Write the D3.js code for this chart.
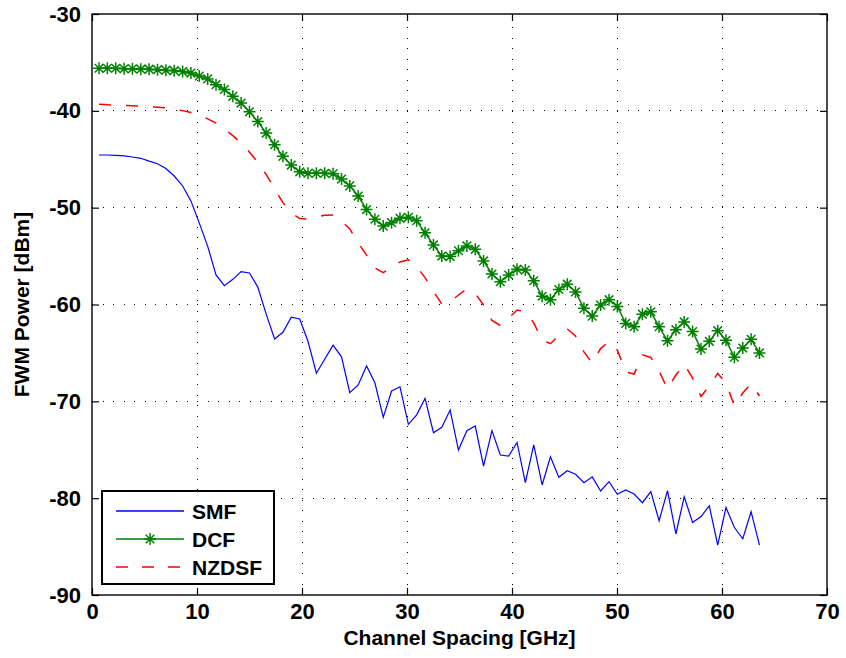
<!DOCTYPE html>
<html>
<head>
<meta charset="utf-8">
<script src="https://cdn.jsdelivr.net/npm/d3@7"></script>
<style>
    body { margin: 0; background: #fff; }
    svg text { font-family: "Liberation Sans", Arial, sans-serif; font-weight: bold; fill: #000; }
</style>
</head>
<body>
<svg id="chart" width="846" height="658"></svg>
<script>
// Channel spacing samples [GHz], shared by all three fibres
var spacing = [0.67, 1.46, 2.26, 3.06, 3.85, 4.65, 5.44, 6.24, 7.04, 7.83,
    8.63, 9.42, 10.22, 11.02, 11.81, 12.61, 13.41, 14.20, 15.00, 15.79,
    16.59, 17.39, 18.18, 18.98, 19.78, 20.57, 21.37, 22.16, 22.96, 23.76,
    24.55, 25.35, 26.15, 26.94, 27.74, 28.53, 29.33, 30.13, 30.92, 31.72,
    32.52, 33.31, 34.11, 34.90, 35.70, 36.50, 37.29, 38.09, 38.89, 39.68,
    40.48, 41.27, 42.07, 42.87, 43.66, 44.46, 45.26, 46.05, 46.85, 47.64,
    48.44, 49.24, 50.03, 50.83, 51.63, 52.42, 53.22, 54.01, 54.81, 55.61,
    56.40, 57.20, 58.00, 58.79, 59.59, 60.38, 61.18, 61.98, 62.77, 63.57];

// FWM power [dBm]
var smfPower = [-44.56, -44.56, -44.6, -44.65, -44.77, -44.9, -45.2, -45.46, -45.96, -46.73,
    -47.76, -49.3, -51.6, -54.0, -56.95, -58.06, -57.4, -56.6, -56.75, -58.2,
    -61.0, -63.56, -62.87, -61.3, -61.5, -63.8, -67.1, -65.66, -64.2, -65.4,
    -69.1, -68.3, -66.35, -68.08, -71.65, -68.93, -68.5, -72.37, -71.4, -69.7,
    -73.24, -72.68, -70.9, -75.03, -73.03, -72.55, -76.68, -73.03, -75.54, -75.65,
    -74.25, -78.4, -74.5, -78.64, -75.72, -77.85, -77.17, -77.53, -78.4, -77.8,
    -79.26, -78.3, -79.6, -79.16, -79.57, -80.47, -79.33, -82.33, -79.23, -83.7,
    -79.85, -82.51, -81.9, -80.79, -84.84, -80.97, -83.03, -84.19, -81.4, -84.84];

var dcfPower = [-35.6, -35.6, -35.6, -35.65, -35.65, -35.7, -35.7, -35.75, -35.8, -35.85,
    -35.95, -36.1, -36.4, -36.7, -37.3, -37.8, -38.5, -39.2, -40.1, -41.1,
    -42.3, -43.5, -44.7, -45.6, -46.3, -46.45, -46.45, -46.45, -46.5, -47.05,
    -47.75, -48.8, -50.2, -51.2, -51.9, -51.55, -51.1, -51.0, -51.35, -52.6,
    -53.85, -55.0, -55.05, -54.45, -53.95, -54.3, -55.5, -56.85, -57.65, -56.95,
    -56.35, -56.45, -57.55, -59.15, -59.5, -58.45, -57.9, -58.7, -60.4, -61.2,
    -60.05, -59.5, -60.2, -61.95, -62.3, -61.0, -60.75, -62.3, -63.75, -62.6,
    -61.8, -62.8, -64.6, -63.8, -62.7, -63.7, -65.45, -64.5, -63.6, -65.0];

var nzdsfPower = [-39.33, -39.38, -39.41, -39.44, -39.47, -39.52, -39.58, -39.64, -39.7, -39.82,
    -39.98, -40.18, -40.44, -40.83, -41.26, -41.88, -42.56, -43.33, -44.27, -45.3,
    -46.58, -48.02, -49.48, -50.55, -51.12, -51.17, -50.96, -50.79, -50.76, -51.38,
    -52.2, -53.65, -54.9, -56.23, -56.7, -56.13, -55.61, -55.38, -56.08, -57.22,
    -58.66, -59.95, -59.75, -59.02, -58.4, -58.87, -60.05, -61.65, -62.17, -61.4,
    -60.57, -60.75, -61.9, -63.7, -64.05, -63.2, -62.53, -63.25, -64.9, -66.04,
    -64.55, -63.82, -64.7, -66.97, -67.18, -65.2, -65.47, -66.87, -68.73, -67.28,
    -66.15, -67.6, -69.5, -68.42, -67.12, -68.1, -70.48, -69.14, -68.16, -69.45];

var xTicks = [0, 10, 20, 30, 40, 50, 60, 70];
var yTicks = [-90, -80, -70, -60, -50, -40, -30];
var seriesNames = ["SMF", "DCF", "NZDSF"];
var seriesColors = ["#0000ff", "#008000", "#ff0000"];

var svg = d3.select("#chart");
var margin = {top: 14, right: 19, bottom: 63, left: 92};
var width = 846 - margin.left - margin.right;
var height = 658 - margin.top - margin.bottom;

var x = d3.scaleLinear().domain([0, 70]).range([0, width]);
var y = d3.scaleLinear().domain([-90, -30]).range([height, 0]);

var g = svg.append("g")
    .attr("transform", "translate(" + margin.left + "," + margin.top + ")");

// dotted grid
var grid = g.append("g")
    .attr("stroke", "#000")
    .attr("stroke-width", 1)
    .attr("stroke-dasharray", "1,9.5")
    .attr("shape-rendering", "crispEdges");
grid.selectAll("line.vx")
    .data(xTicks.slice(1, -1))
    .enter().append("line")
    .attr("x1", function(d) { return x(d); })
    .attr("x2", function(d) { return x(d); })
    .attr("y1", height)
    .attr("y2", 0);
grid.selectAll("line.hy")
    .data(yTicks.slice(1, -1))
    .enter().append("line")
    .attr("x1", 0)
    .attr("x2", width)
    .attr("y1", function(d) { return y(d); })
    .attr("y2", function(d) { return y(d); });

// axes, ticks pointing inward on every side
var plain = function(d) { return String(d); };

function styleAxis(sel) {
    sel.select(".domain").remove();
    sel.selectAll(".tick line").attr("stroke", "#000").attr("stroke-width", 1.2);
    sel.selectAll(".tick text").attr("font-size", 22).attr("font-family", null);
}

g.append("g")
    .attr("transform", "translate(0," + height + ")")
    .call(d3.axisBottom(x).tickValues(xTicks).tickFormat(plain).tickSize(-7).tickPadding(8))
    .call(styleAxis);
g.append("g")
    .call(d3.axisTop(x).tickValues(xTicks).tickSize(-7).tickFormat(""))
    .call(styleAxis);
g.append("g")
    .call(d3.axisLeft(y).tickValues(yTicks).tickFormat(plain).tickSize(-7).tickPadding(11))
    .call(styleAxis);
g.append("g")
    .attr("transform", "translate(" + width + ",0)")
    .call(d3.axisRight(y).tickValues(yTicks).tickSize(-7).tickFormat(""))
    .call(styleAxis);

g.append("rect")
    .attr("width", width)
    .attr("height", height)
    .attr("fill", "none")
    .attr("stroke", "#000")
    .attr("stroke-width", 1.4);

// curves
function line(values) {
    return d3.line()
        .x(function(d, i) { return x(spacing[i]); })
        .y(function(d) { return y(d); })(values);
}

g.append("path")
    .attr("d", line(smfPower))
    .attr("fill", "none")
    .attr("stroke", seriesColors[0])
    .attr("stroke-width", 1.2);

g.append("path")
    .attr("d", line(nzdsfPower))
    .attr("fill", "none")
    .attr("stroke", seriesColors[2])
    .attr("stroke-width", 1.5)
    .attr("stroke-dasharray", "12,15");

g.append("path")
    .attr("d", line(dcfPower))
    .attr("fill", "none")
    .attr("stroke", seriesColors[1])
    .attr("stroke-width", 1.5);

var asterisk = "M-6,0H6M0,-6V6M-4.3,-4.3L4.3,4.3M-4.3,4.3L4.3,-4.3";
g.selectAll("path.marker")
    .data(dcfPower)
    .enter().append("path")
    .attr("class", "marker")
    .attr("transform", function(d, i) { return "translate(" + x(spacing[i]) + "," + y(d) + ")"; })
    .attr("d", asterisk)
    .attr("fill", "none")
    .attr("stroke", seriesColors[1])
    .attr("stroke-width", 1.5);

// axis titles
svg.append("text")
    .attr("x", margin.left + width / 2)
    .attr("y", 645)
    .attr("text-anchor", "middle")
    .attr("font-size", 21)
    .text("Channel Spacing [GHz]");
svg.append("text")
    .attr("transform", "translate(29," + (margin.top + height / 2) + ") rotate(-90)")
    .attr("text-anchor", "middle")
    .attr("font-size", 21)
    .text("FWM Power [dBm]");

// legend
var legend = svg.append("g").attr("transform", "translate(102,491)");
legend.append("rect")
    .attr("width", 172)
    .attr("height", 93)
    .attr("fill", "#fff")
    .attr("stroke", "#000")
    .attr("stroke-width", 2);

var rows = legend.selectAll("g.row")
    .data(seriesNames)
    .enter().append("g")
    .attr("transform", function(d, i) { return "translate(0," + (20 + i * 28) + ")"; });
rows.append("line")
    .attr("x1", 14)
    .attr("x2", 82)
    .attr("stroke", function(d, i) { return seriesColors[i]; })
    .attr("stroke-width", function(d, i) { return i === 0 ? 1.4 : 1.6; })
    .attr("stroke-dasharray", function(d, i) { return i === 2 ? "12,14" : null; });
rows.filter(function(d, i) { return i === 1; })
    .append("path")
    .attr("transform", "translate(48,0)")
    .attr("d", asterisk)
    .attr("fill", "none")
    .attr("stroke", seriesColors[1])
    .attr("stroke-width", 1.5);
rows.append("text")
    .attr("x", 90)
    .attr("dy", "0.36em")
    .attr("font-size", 21)
    .text(function(d) { return d; });
</script>
</body>
</html>
